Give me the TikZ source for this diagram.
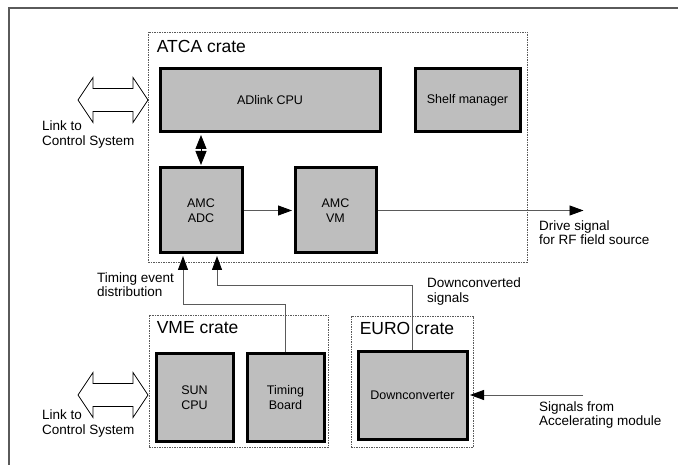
\documentclass[tikz,border=0pt]{standalone}
\usepackage{fontspec}
\setmainfont{Liberation Sans}
\usetikzlibrary{arrows.meta,positioning}
\definecolor{boxgray}{RGB}{190,190,190}
\definecolor{linegray}{RGB}{90,90,90}
\tikzset{
  unit/.style={draw=black, line width=3pt, fill=boxgray, align=center,
    font=\fontsize{12.5}{14.5}\selectfont},
  crate/.style={draw=linegray, line width=0.8pt, dash pattern=on 1.5pt off 1pt},
  cratename/.style={anchor=north west, inner sep=0pt, font=\fontsize{17.5}{20}\selectfont},
  note/.style={anchor=west, align=left, inner sep=0pt, font=\fontsize{13.5}{14.5}\selectfont},
  sig/.style={draw=linegray, line width=0.9pt, shorten >=1.5pt,
    -{Triangle[length=14pt,width=10pt,color=black]}},
  linkarrow/.pic={
    \draw[draw=black, line width=0.7pt, fill=white]
      (-35,0) -- (-20,-22.5) -- (-20,-11.5) -- (20,-11.5) -- (20,-22.5) -- (35,0)
      -- (20,22.5) -- (20,11.5) -- (-20,11.5) -- (-20,22.5) -- cycle;
  }
}
\begin{document}
\begin{tikzpicture}[x=1pt,y=-1pt]
  \useasboundingbox (0,0) rectangle (678,465);
  \draw[draw=linegray, line width=1.5pt] (9,465) -- (9,8) -- (678,8);

  % crates
  \node[crate, minimum width=379pt, minimum height=230pt] (atca) at (337.5,147) {};
  \node[crate, minimum width=179pt, minimum height=132pt] (vme) at (238.5,381) {};
  \node[crate, minimum width=122pt, minimum height=131pt] (euro) at (412,381.5) {};
  \node[cratename] (atcaname) at ([shift={(9,8)}]atca.north west) {ATCA crate};
  \node[cratename] (vmename) at ([shift={(8,7)}]vme.north west) {VME crate};
  \node[cratename] (euroname) at ([shift={(9,6)}]euro.north west) {EURO crate};

  % units
  \node[unit, minimum width=220pt, minimum height=63pt] (adlink) at (270,100.5) {ADlink CPU};
  \node[unit, minimum width=105pt, minimum height=63pt] (shelf) at (467.5,100.5) {Shelf manager};
  \node[unit, minimum width=82pt, minimum height=85pt] (adc) at (201,210.5) {AMC\\ADC};
  \node[unit, minimum width=81pt, minimum height=85pt] (vm) at (335.5,210.5) {AMC\\VM};
  \node[unit, minimum width=77pt, minimum height=87pt] (sun) at (194.5,397.5) {SUN\\CPU};
  \node[unit, minimum width=77pt, minimum height=87pt] (timing) at (285.5,397.5) {Timing\\Board};
  \node[unit, minimum width=109pt, minimum height=87pt] (down) at (412.5,395.5) {Downconverter};

  % links to control system
  \pic at (113,100) {linkarrow};
  \pic at (113,395) {linkarrow};
  \node[note] (linktop) at (42,134.5) {Link to\\Control System};
  \node[note] (linkbot) at (42,423.5) {Link to\\Control System};

  % signals
  \coordinate (drive) at (585,210);
  \coordinate (tbend) at (183,304);
  \coordinate (dbend) at (217,285);
  \coordinate (accel) at (583,395);
  \draw[sig, shorten <=1.5pt, {Triangle[length=14pt,width=11pt,color=black]}-{Triangle[length=14pt,width=11pt,color=black]}, draw=black]
    (adc.north) -- (adc.north |- adlink.south);
  \draw[sig] (adc) -- (vm);
  \draw[sig] (vm.east) -- (vm.east -| drive);
  \draw[sig] (timing.north) |- (tbend) -- (tbend |- adc.south);
  \draw[sig] (down.north) |- (dbend) -- (dbend |- adc.south);
  \draw[sig] (accel) -- (accel -| down.east);

  \node[note] (drivetxt) at (539,232.5) {Drive signal\\for RF field source};
  \node[note] (timingtxt) at (97,284.5) {Timing event\\distribution};
  \node[note] (downtxt) at (427,291.5) {Downconverted\\signals};
  \node[note] (acceltxt) at (539,415) {Signals from\\Accelerating module};
\end{tikzpicture}
\end{document}
